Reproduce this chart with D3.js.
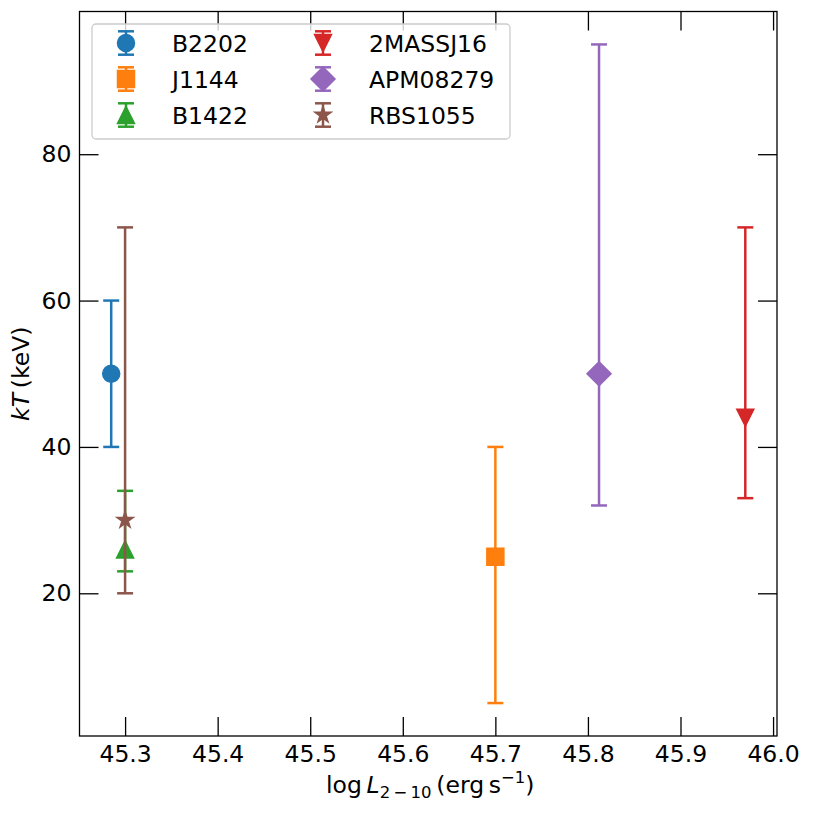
<!DOCTYPE html>
<html>
<head>
<meta charset="utf-8">
<script src="https://d3js.org/d3.v7.min.js"></script>
<style>
  body {
    margin: 0;
    background: #fff;
  }

  svg {
    font-family: "DejaVu Sans", sans-serif;
  }

  .axis path,
  .axis line {
    stroke: #000;
    stroke-width: 1.3px;
  }

  .axis text {
    font-size: 23.5px;
    fill: #000;
    font-family: "DejaVu Sans", sans-serif;
  }

  .legend text {
    font-size: 23.5px;
    fill: #000;
  }
</style>
</head>
<body>
<script>
  // data
  var sources = ["B2202", "J1144", "B1422", "2MASSJ16", "APM08279", "RBS1055"];
  var logL    = [45.285, 45.70, 45.30, 45.97, 45.812, 45.30];
  var kT      = [50, 25, 26, 44, 50, 30];
  var kTlow   = [40, 5, 23, 33, 32, 20];
  var kThigh  = [60, 40, 34, 70, 95, 70];
  var colors  = ["#1f77b4", "#ff7f0e", "#2ca02c", "#d62728", "#9467bd", "#8c564b"];
  var markers = ["circle", "square", "triUp", "triDown", "diamond", "star"];

  var xTicks = [45.3, 45.4, 45.5, 45.6, 45.7, 45.8, 45.9, 46.0];
  var yTicks = [20, 40, 60, 80];

  var W = 813, H = 814;
  var margin = {top: 11.5, right: 36, bottom: 78, left: 79.5};
  var width = W - margin.left - margin.right,
      height = H - margin.top - margin.bottom;

  var ms = 17;        // marker size px
  var capHalf = 8;
  var tickLen = 19;

  // matplotlib style 5% autoscale margins
  function padded(lo, hi) {
    var p = (hi - lo) * 0.05;
    return [lo - p, hi + p];
  }

  var x = d3.scaleLinear()
      .domain(padded(d3.min(logL), d3.max(logL)))
      .range([0, width]);

  var y = d3.scaleLinear()
      .domain(padded(d3.min(kTlow), d3.max(kThigh)))
      .range([height, 0]);

  var svg = d3.select("body").append("svg")
      .attr("width", W)
      .attr("height", H);

  var g = svg.append("g")
      .attr("transform", `translate(${margin.left},${margin.top})`);

  // axes, ticks pointing inwards on all four sides
  g.append("g")
      .attr("class", "axis")
      .attr("transform", `translate(0,${height})`)
      .call(d3.axisBottom(x).tickValues(xTicks).tickFormat(d3.format(".1f"))
        .tickSizeInner(-tickLen).tickSizeOuter(0).tickPadding(9));

  g.append("g")
      .attr("class", "axis")
      .call(d3.axisTop(x).tickValues(xTicks).tickFormat("")
        .tickSizeInner(-tickLen).tickSizeOuter(0));

  g.append("g")
      .attr("class", "axis")
      .call(d3.axisLeft(y).tickValues(yTicks).tickFormat(d3.format("d"))
        .tickSizeInner(-tickLen).tickSizeOuter(0).tickPadding(8));

  g.append("g")
      .attr("class", "axis")
      .attr("transform", `translate(${width},0)`)
      .call(d3.axisRight(y).tickValues(yTicks).tickFormat("")
        .tickSizeInner(-tickLen).tickSizeOuter(0));

  g.selectAll(".axis .domain").remove();

  g.append("rect")
      .attr("width", width)
      .attr("height", height)
      .attr("fill", "none")
      .attr("stroke", "#000")
      .attr("stroke-width", 1.3);

  function markerPath(type, s) {
    var h = s / 2;
    var p = d3.path();
    if (type == "circle") {
      p.arc(0, 0, h, 0, 2 * Math.PI);
    } else if (type == "square") {
      p.rect(-h, -h, s, s);
    } else if (type == "triUp") {
      p.moveTo(0, -h); p.lineTo(h, h); p.lineTo(-h, h); p.closePath();
    } else if (type == "triDown") {
      p.moveTo(0, h); p.lineTo(h, -h); p.lineTo(-h, -h); p.closePath();
    } else if (type == "diamond") {
      var r = s / Math.SQRT2;
      p.moveTo(0, -r); p.lineTo(r, 0); p.lineTo(0, r); p.lineTo(-r, 0); p.closePath();
    } else if (type == "star") {
      for (var i = 0; i < 10; i++) {
        var rr = i % 2 == 0 ? h : h * 0.381966;
        var a = -Math.PI / 2 + i * Math.PI / 5;
        if (i == 0) p.moveTo(rr * Math.cos(a), rr * Math.sin(a));
        else p.lineTo(rr * Math.cos(a), rr * Math.sin(a));
      }
      p.closePath();
    }
    return p.toString();
  }

  function errorGlyph(sel, i, top, bottom) {
    sel.append("line")
        .attr("y1", top).attr("y2", bottom)
        .attr("stroke", colors[i]).attr("stroke-width", 2.5);
    [top, bottom].forEach(function(cy) {
      sel.append("line")
          .attr("x1", -capHalf).attr("x2", capHalf)
          .attr("y1", cy).attr("y2", cy)
          .attr("stroke", colors[i]).attr("stroke-width", 2.5);
    });
    sel.append("path")
        .attr("d", markerPath(markers[i], ms))
        .attr("fill", colors[i])
        .attr("stroke", colors[i])
        .attr("stroke-width", 1.5)
        .attr("stroke-linejoin", "miter");
  }

  // error bars
  sources.forEach(function(name, i) {
    var pt = g.append("g")
        .attr("transform", `translate(${x(logL[i])},${y(kT[i])})`);
    errorGlyph(pt, i, y(kThigh[i]) - y(kT[i]), y(kTlow[i]) - y(kT[i]));
  });

  // legend
  var legend = svg.append("g").attr("class", "legend");
  legend.append("rect")
      .attr("x", 92).attr("y", 24)
      .attr("width", 418).attr("height", 115)
      .attr("rx", 4)
      .attr("fill", "#fff").attr("fill-opacity", 0.8)
      .attr("stroke", "#cccccc").attr("stroke-width", 1.3);

  sources.forEach(function(name, i) {
    var col = Math.floor(i / 3), row = i % 3;
    var lx = 126 + col * 197, ly = 43 + row * 36;
    var item = legend.append("g")
        .attr("transform", `translate(${lx},${ly})`);
    errorGlyph(item, i, -11.7, 11.7);
    item.append("text")
        .attr("x", 46)
        .attr("y", 8.5)
        .text(name);
  });

  // axis labels
  var xl = svg.append("text")
      .attr("x", margin.left + width / 2 + 2)
      .attr("y", 793)
      .attr("text-anchor", "middle")
      .attr("font-size", 23.5);
  xl.append("tspan").text("log\u2009");
  xl.append("tspan").attr("font-style", "italic").text("L");
  xl.append("tspan").attr("font-size", 16.5).attr("dy", 5).text("2\u2009\u2212\u200910");
  xl.append("tspan").attr("dy", -5).text("\u2009(erg\u2009s");
  xl.append("tspan").attr("font-size", 16.5).attr("dy", -10).text("\u22121");
  xl.append("tspan").attr("dy", 10).text(")");

  var yl = svg.append("text")
      .attr("transform", `translate(29,${margin.top + height / 2}) rotate(-90)`)
      .attr("text-anchor", "middle")
      .attr("font-size", 23.5);
  yl.append("tspan").attr("font-style", "italic").text("kT");
  yl.append("tspan").text("\u2009(keV)");
</script>
</body>
</html>
